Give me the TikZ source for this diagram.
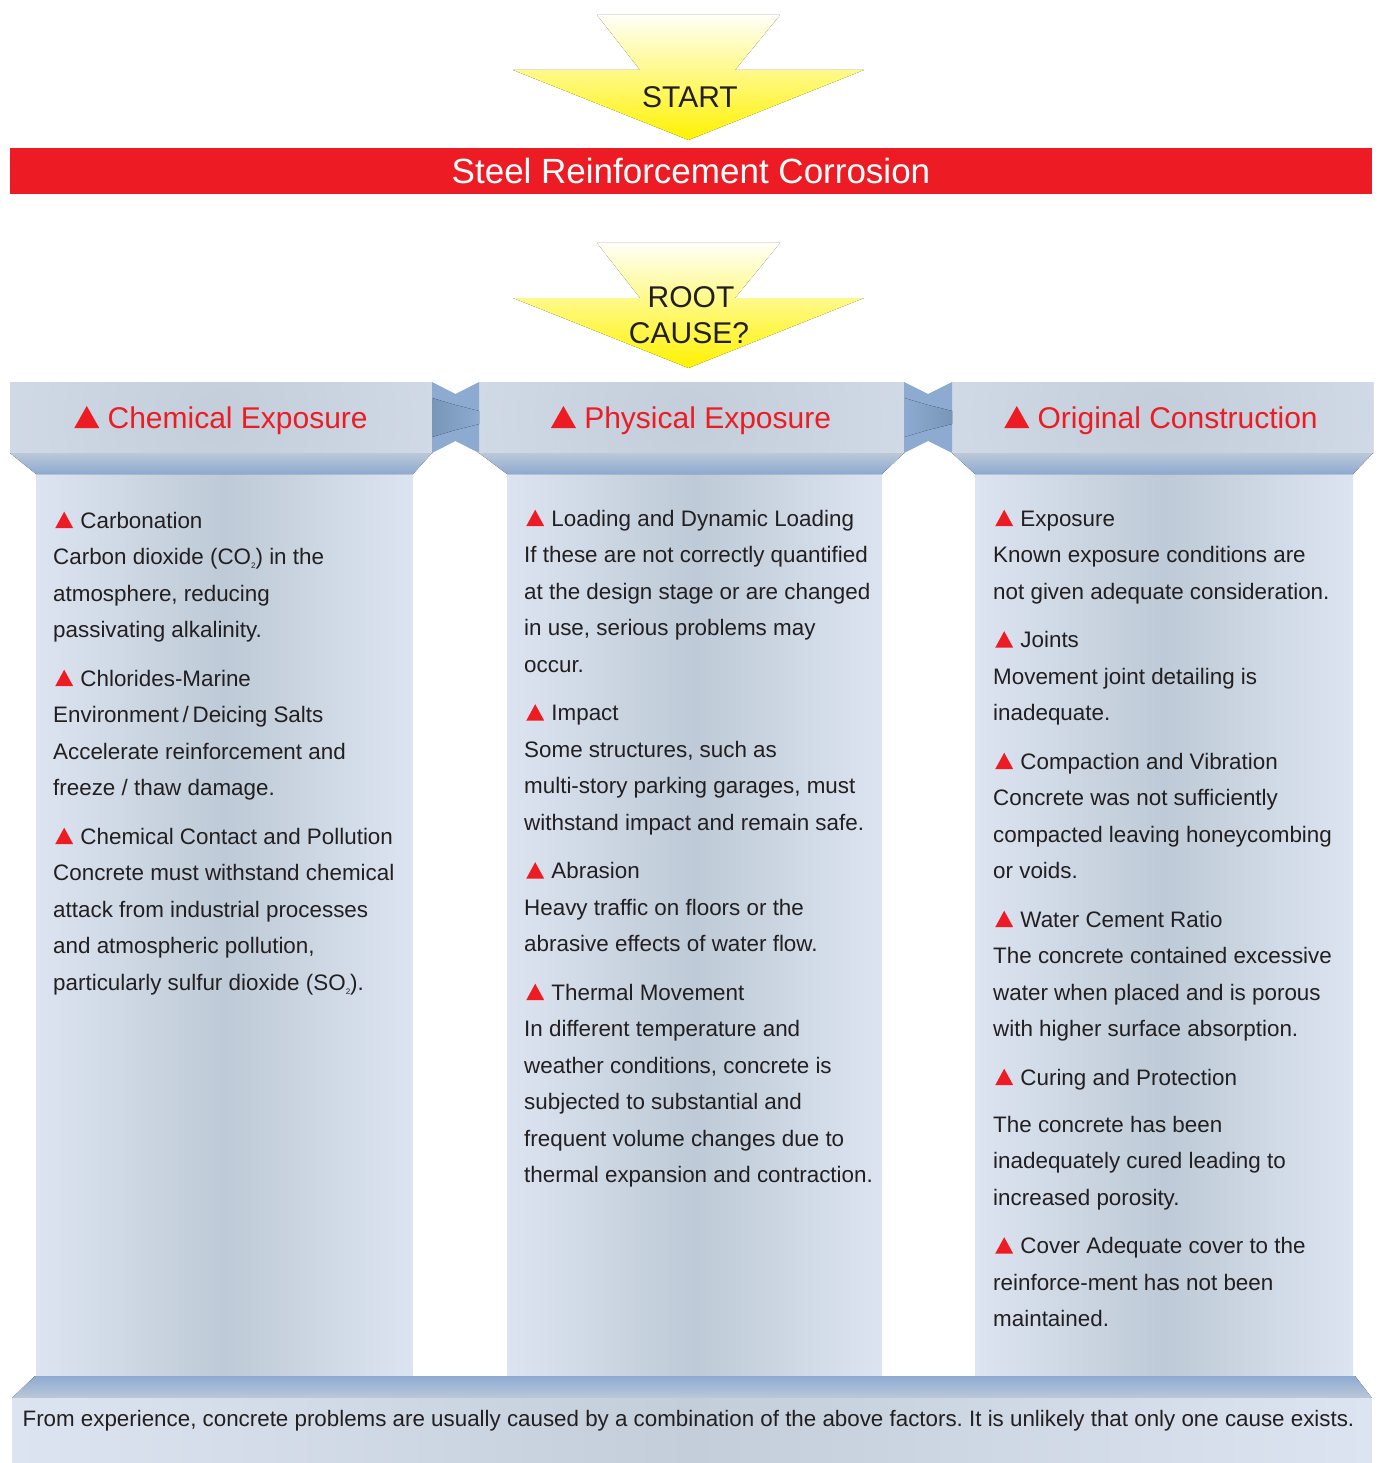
\documentclass[tikz,border=0pt]{standalone}
\usepackage{fontspec}
\setmainfont{Liberation Sans}
\frenchspacing
\definecolor{cred}{HTML}{ED1C24}
\definecolor{ctext}{HTML}{231F20}
\definecolor{cyel}{HTML}{FFF200}
\definecolor{arrowTop}{HTML}{FFFFF8}
\definecolor{colEdge}{HTML}{DDE4F1}
\definecolor{colMid}{HTML}{BECAD7}
\definecolor{hdMid}{HTML}{C3CEDA}
\definecolor{bevTop}{HTML}{BCC8D8}
\definecolor{bevBot}{HTML}{8DAAD2}
\definecolor{conn}{HTML}{8DABD1}
\definecolor{connDark}{HTML}{7896B6}
\newcommand\tri[2]{\tikz[baseline=0pt,x=1pt,y=1pt]\fill[cred] (0,0)--(#1,0)--(#1/2,#2)--cycle;}
\newcommand\btri{\hspace*{2pt}\tri{18}{16.5}\hspace{1pt}}
\newcommand\htri{\tri{25}{22}}
\newcommand\sub[1]{\raisebox{-4pt}{\fontsize{8}{8}\selectfont #1}}
\tikzset{
  body/.style={anchor=north west, inner sep=0pt, align=left, text=ctext,
    font=\fontsize{22.4}{36.5}\selectfont},
  head/.style={anchor=base, inner sep=0pt, text=cred, font=\fontsize{30}{36}\selectfont},
  arrowtext/.style={anchor=base, inner sep=0pt, text=ctext, font=\fontsize{30}{36}\selectfont},
  column/.style={left color=colEdge, right color=colEdge, middle color=colMid},
  bevel/.style={top color=bevTop, bottom color=bevBot},
}
\newcommand\bigarrow[1]{%
  \fill[top color=arrowTop, bottom color=cyel]
    (597,#1)--(780,#1)--(735,#1+55)--(864,#1+55)--(688.5,#1+125)--(513,#1+55)--(640,#1+55)--cycle;}
\newcommand\header[3]{% x0, x1, centre x
  \begin{scope}
    \clip (#1,382) rectangle (#2,453);
    \fill[colEdge] (#1,382) rectangle (#2,453);
    \fill[inner color=hdMid, outer color=colEdge] (#3,418) circle (430);
  \end{scope}}
\newcommand\connector[4]{% x0, x1, dark colour left, dark colour right
  \fill[conn] (#1,382)--({(#1+#2)/2},394)--(#2,382)--(#2,453)--({(#1+#2)/2},441)--(#1,453)--cycle;
  \fill[left color=#3, right color=#4] (#1,398)--({(#1+#2)/2},405)--(#2,411)--(#2,424)--({(#1+#2)/2},430)--(#1,437)--cycle;}
\begin{document}
\begin{tikzpicture}[x=1pt,y=-1pt]
\useasboundingbox (0,0) rectangle (1378,1463);
% arrows
\bigarrow{15}
\bigarrow{243}
\node[arrowtext] (start) at (690,108) {START};
\node[arrowtext] (root1) at (691,307) {ROOT};
\node[arrowtext] (root2) at (689,343) {CAUSE?};
% title bar
\node[fill=cred, minimum width=1362pt, minimum height=46pt, inner sep=0pt, text=white,
  font=\fontsize{35}{40}\selectfont] (title) at (691,171) {Steel Reinforcement Corrosion};
% columns
\fill[column] (36,474) rectangle (413,1376);
\fill[column] (507,474) rectangle (882,1376);
\fill[column] (975,474) rectangle (1353,1376);
% headers
\header{10}{432}{221}
\header{479}{904}{691}
\header{952}{1373}{1162}
\fill[bevel] (10,453)--(432,453)--(413,474)--(36,474)--cycle;
\fill[bevel] (479,453)--(904,453)--(882,474)--(507,474)--cycle;
\fill[bevel] (952,453)--(1373,453)--(1353,474)--(975,474)--cycle;
\connector{432}{479}{connDark}{conn}
\connector{904}{952}{conn}{connDark}
% footer
\fill[top color=bevBot, bottom color=bevTop] (35,1376)--(1355,1376)--(1372,1398)--(12,1398)--cycle;
\fill[left color=colEdge, right color=colEdge, middle color=hdMid] (12,1398) rectangle (1372,1463);
% header texts
\node[head] (h1) at (221,428) {\htri\ Chemical Exposure};
\node[head] (h2) at (691,428) {\htri\ Physical Exposure};
\node[head] (h3) at (1161,428) {\htri\ Original Construction};
% column texts
\node[body] (c1) at (53,502.45) {\strut\btri\ Carbonation\\
Carbon dioxide (CO\sub{2}) in the\\
atmosphere, reducing\\
passivating alkalinity.\\[12pt]
\btri\ Chlorides-Marine\\
Environment\,/\,Deicing Salts\\
Accelerate reinforcement and\\
freeze / thaw damage.\\[12pt]
\btri\ Chemical Contact and Pollution\\
Concrete must withstand chemical\\
attack from industrial processes\\
and atmospheric pollution,\\
particularly sulfur dioxide (SO\sub{2}).};
\node[body] (c2) at (524,500.45) {\strut\btri\ Loading and Dynamic Loading\\
If these are not correctly quantified\\
at the design stage or are changed\\
in use, serious problems may\\
occur.\\[12pt]
\btri\ Impact\\
Some structures, such as\\
multi-story parking garages, must\\
withstand impact and remain safe.\\[12pt]
\btri\ Abrasion\\
Heavy traffic on floors or the\\
abrasive effects of water flow.\\[12pt]
\btri\ Thermal Movement\\
In different temperature and\\
weather conditions, concrete is\\
subjected to substantial and\\
frequent volume changes due to\\
thermal expansion and contraction.};
\node[body] (c3) at (993,500.45) {\strut\btri\ Exposure\\
Known exposure conditions are\\
not given adequate consideration.\\[12pt]
\btri\ Joints\\
Movement joint detailing is\\
inadequate.\\[12pt]
\btri\ Compaction and Vibration\\
Concrete was not sufficiently\\
compacted leaving honeycombing\\
or voids.\\[12pt]
\btri\ Water Cement Ratio\\
The concrete contained excessive\\
water when placed and is porous\\
with higher surface absorption.\\[12pt]
\btri\ Curing and Protection\\[10.5pt]
The concrete has been\\
inadequately cured leading to\\
increased porosity.\\[12pt]
\btri\ Cover Adequate cover to the\\
reinforce-ment has not been\\
maintained.};
% footer text
\node[anchor=base, inner sep=0pt, text=ctext, font=\fontsize{22.35}{26}\selectfont] (foot) at (688.5,1426)
  {From experience, concrete problems are usually caused by a combination of the above factors. It is unlikely that only one cause exists.};
\end{tikzpicture}
\end{document}
